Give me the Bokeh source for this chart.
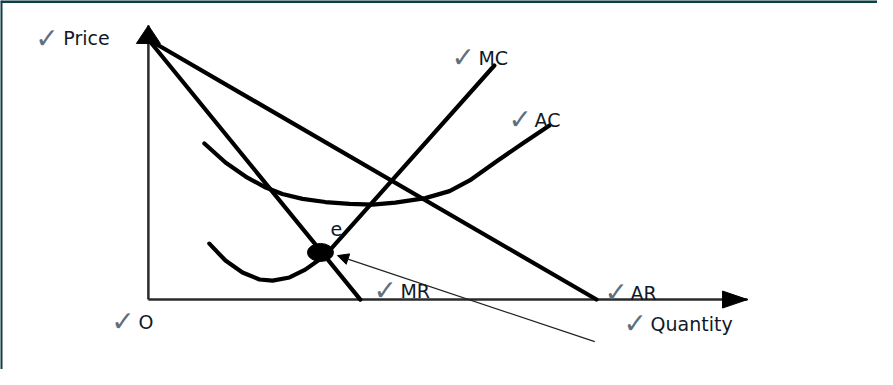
from bokeh.plotting import figure
from bokeh.models import Range1d, Arrow, NormalHead
from bokeh.core.properties import value
from bokeh.embed import file_html
from bokeh.resources import INLINE

# ---- data (quantity / price units) ----
ar_q = [0.0, 10.0]
ar_p = [10.0, 0.0]

mr_q = [0.0, 4.73]
mr_p = [10.0, 0.0]

mc_q = [1.36, 1.72, 2.10, 2.48, 2.77, 3.15, 3.50, 3.82, 4.04, 7.72]
mc_p = [2.15, 1.50, 1.04, 0.77, 0.73, 0.85, 1.15, 1.54, 1.88, 9.00]

ac_q = [1.25, 1.72, 2.17, 2.59, 2.99, 3.44, 3.95, 4.49, 5.00, 5.51, 6.18,
        6.72, 7.17, 7.75, 8.35, 8.95]
ac_p = [6.00, 5.27, 4.73, 4.33, 4.06, 3.87, 3.75, 3.68, 3.65, 3.73, 3.90,
        4.17, 4.58, 5.29, 6.00, 6.69]

eq_q = [3.84]
eq_p = [1.81]

axis_q_max = 13.37
axis_p_max = 10.54

pointer_q = [9.96, 4.22]
pointer_p = [-1.62, 1.69]

label_text = ["Price", "MC", "AC", "MR", "AR", "Quantity", "O"]
label_q = [-1.897, 7.366, 8.616, 5.625, 10.759, 11.205, -0.223]
label_p = [10.04, 9.308, 6.923, 0.346, 0.269, -0.923, -0.846]
check_q = [-2.522, 6.763, 8.036, 5.022, 10.179, 10.603, -0.826]

e_label_q = [4.063]
e_label_p = [2.731]

# ---- figure ----
W, H = 877, 369
X0, X1 = -3.30, 16.27
Y0, Y1 = -2.69, 11.50
sx = W / (X1 - X0)
sy = H / (Y1 - Y0)

p = figure(width=W, height=H, output_backend="svg", toolbar_location=None,
           x_range=Range1d(X0, X1), y_range=Range1d(Y0, Y1),
           min_border=0, x_axis_location=None, y_axis_location=None)
p.grid.visible = False
p.outline_line_color = None
p.background_fill_color = "white"
p.border_fill_color = "white"

# frame border (top and left only)
border_col = "#0e3f47"
p.line([X0, X1], [Y1 - 1.0 / sy, Y1 - 1.0 / sy], line_color=border_col, line_width=3)
p.line([X0 + 0.5 / sx, X0 + 0.5 / sx], [Y0, Y1], line_color=border_col, line_width=3)

# axes
axis_col = "#2a2a2a"
p.line([0, 0], [0, axis_p_max], line_color=axis_col, line_width=2.5)
p.line([0, axis_q_max], [0, 0], line_color=axis_col, line_width=2.5)
hw, hl = 12 / sx, 18 / sy
p.patch([0, -hw, hw], [axis_p_max, axis_p_max - hl, axis_p_max - hl],
        fill_color="black", line_color="black")
hl2, hw2 = 25 / sx, 8.5 / sy
p.patch([axis_q_max, axis_q_max - hl2, axis_q_max - hl2], [0, hw2, -hw2],
        fill_color="black", line_color="black")

# curves
for xs, ys in [(ar_q, ar_p), (mr_q, mr_p), (mc_q, mc_p), (ac_q, ac_p)]:
    p.line(xs, ys, line_color="black", line_width=4.2, line_join="round", line_cap="round")

# equilibrium point
p.ellipse(eq_q, eq_p, width=26, height=18, width_units="screen", height_units="screen",
          fill_color="black", line_color="black")

# pointer arrow
p.add_layout(Arrow(x_start=pointer_q[0], y_start=pointer_p[0],
                   x_end=pointer_q[1], y_end=pointer_p[1],
                   line_color="#222222", line_width=1.2,
                   end=NormalHead(size=11, fill_color="black", line_color="black", line_width=1)))

# labels
text_col = "#111827"
check_col = "#5f6f80"
p.text(check_q, label_p, text=["\u2713"] * len(check_q), text_font=value("DejaVu Sans"),
       text_font_size="28px", text_color=check_col, text_align="left",
       text_baseline="alphabetic")
p.text(label_q, label_p, text=label_text, text_font=value("DejaVu Sans"),
       text_font_size="19px", text_color=text_col, text_align="left",
       text_baseline="alphabetic")
p.text(e_label_q, e_label_p, text=["e"], text_font=value("DejaVu Sans"),
       text_font_size="19px", text_color=text_col, text_align="left",
       text_baseline="alphabetic")

open("out.html", "w").write(file_html(p, INLINE))
